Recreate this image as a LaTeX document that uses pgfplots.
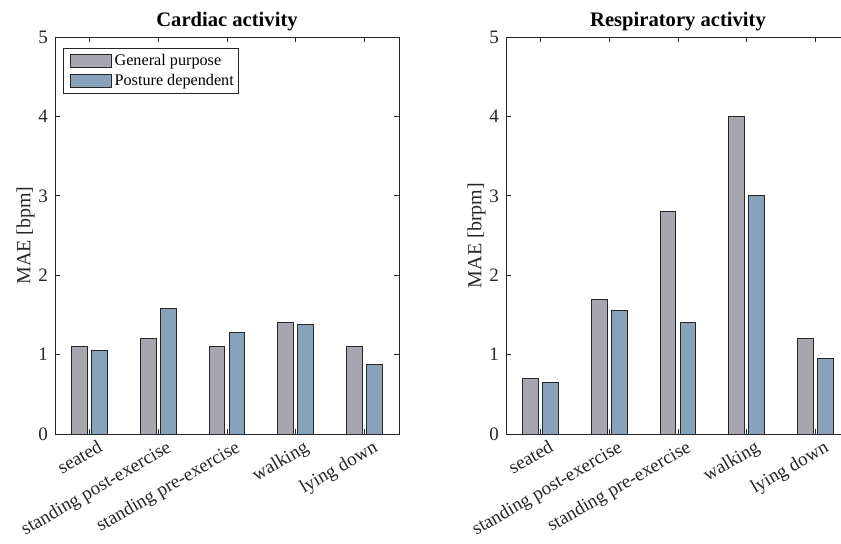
\documentclass[border=0pt]{standalone}
\usepackage{fontspec}
\setmainfont{Liberation Serif}
\usepackage{pgfplots}
\pgfplotsset{compat=1.18}

\definecolor{gp}{RGB}{166,165,176}
\definecolor{pd}{RGB}{135,163,188}
\definecolor{ax}{RGB}{38,38,38}

\pgfplotsset{
  maefig/.style={
    scale only axis, width=172pt, height=198.5pt,
    xmin=0.5, xmax=5.5, ymin=0, ymax=5,
    xtick={1,...,5},
    xticklabels={seated, standing post-exercise, standing pre-exercise, walking, lying down},
    x tick label style={rotate=30, anchor=north east, inner sep=1pt, xshift=3pt, yshift=-3pt,
      font=\fontsize{9.5}{10}\selectfont},
    ytick={0,...,5},
    y tick label style={font=\fontsize{9.5}{10}\selectfont},
    tick align=inside, major tick length=2.5pt,
    axis line style={ax, line width=0.4pt},
    every tick/.style={ax, line width=0.4pt},
    tick label style={text=ax},
    /pgf/number format/assume math mode=true,
    title style={font=\bfseries\fontsize{10.3}{12}\selectfont, yshift=-6.5pt},
    ylabel style={font=\fontsize{10}{11}\selectfont, text=ax, yshift=-5pt},
    legend image code/.code={
      \path (0pt,0pt) (23pt,0pt);
      \draw[#1] (2pt,-3.4pt) rectangle (22.5pt,3.4pt);},
  },
  gpbar/.style={ybar, bar width=0.23, bar shift=-0.145, fill=gp, draw=black!85, line width=0.5pt},
  pdbar/.style={ybar, bar width=0.23, bar shift=0.145, fill=pd, draw=black!85, line width=0.5pt},
}

\begin{document}
\begin{tikzpicture}
\begin{axis}[maefig,
  title={Cardiac activity},
  ylabel={MAE [bpm]},
  legend style={at={(rel axis cs:0,1)}, anchor=north west, xshift=4pt, yshift=-5.5pt,
    draw=ax, font=\fontsize{8.1}{9}\selectfont, row sep=0.6pt, inner sep=1.5pt,
    nodes={inner sep=0.6pt, text height=6.4pt, text depth=1.9pt}},
  legend cell align=left,
]
\addplot[gpbar] coordinates {(1,1.10) (2,1.20) (3,1.10) (4,1.40) (5,1.10)};
\addlegendentry{General purpose}
\addplot[pdbar] coordinates {(1,1.05) (2,1.58) (3,1.28) (4,1.38) (5,0.88)};
\addlegendentry{Posture dependent}
\end{axis}

\begin{axis}[maefig, at={(225.5pt,0pt)},
  title={Respiratory activity},
  ylabel={MAE [brpm]},
]
\addplot[gpbar] coordinates {(1,0.70) (2,1.70) (3,2.80) (4,4.00) (5,1.20)};
\addplot[pdbar] coordinates {(1,0.65) (2,1.55) (3,1.40) (4,3.00) (5,0.95)};
\end{axis}
\pgfresetboundingbox
\path[use as bounding box] (-27.5pt,-54.5pt) rectangle (393pt,217pt);
\end{tikzpicture}
\end{document}
